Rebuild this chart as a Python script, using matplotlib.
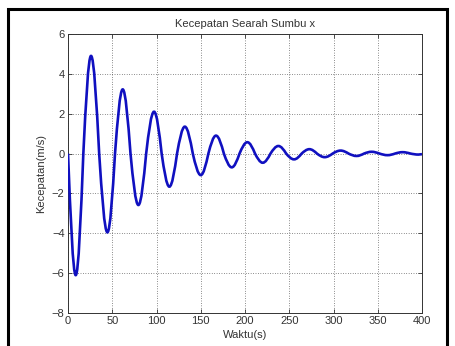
import numpy as np
import matplotlib
matplotlib.use("Agg")
import matplotlib.pyplot as plt
from matplotlib.path import Path
from matplotlib.patches import PathPatch, Rectangle

# extrema of the damped oscillation
t_ext = [8.7, 26.0, 44.5, 61.8, 79.5, 97.2, 114.5, 132.0, 150.0, 167.2, 185.0,
         202.6, 220.0, 237.7, 255.4, 272.7, 290.0, 308.0, 326.0, 343.0, 361.0,
         378.0, 396.0]
v_ext = [-6.1, 4.9, -3.95, 3.22, -2.58, 2.1, -1.66, 1.35, -1.08, 0.9, -0.69,
         0.57, -0.46, 0.38, -0.29, 0.22, -0.18, 0.15, -0.12, 0.09, -0.08,
         0.07, -0.05]
# zero crossings preceding each extremum
t_zero = [0.0, 17.3, 35.2, 53.1, 70.6, 88.3, 105.8, 123.2, 141.0, 158.6, 176.1,
          193.8, 211.3, 228.8, 246.5, 264.0, 281.3, 299.0, 317.0, 334.5, 352.0,
          369.5, 387.0]
t_end, v_end = 400.0, -0.03

x_ticks = [0, 50, 100, 150, 200, 250, 300, 350, 400]
y_ticks = [-8, -6, -4, -2, 0, 2, 4, 6]

plt.rcParams['font.family'] = ['Liberation Sans', 'DejaVu Sans']
txt = '#333333'

fig = plt.figure(figsize=(4.55, 3.46), dpi=100)
fig.patch.set_facecolor('white')
ax = fig.add_axes([0.1495, 0.0954, 0.778, 0.8063])

# build a smooth path: quarter-sine bezier pieces between zeros and extrema
a1, b1 = 0.326, 0.512
a2 = 0.638
verts = [(t_zero[0], 0.0)]
codes = [Path.MOVETO]
for i in range(len(t_ext)):
    t0, t1, v = t_zero[i], t_ext[i], v_ext[i]
    dt = t1 - t0
    verts += [(t0 + a1 * dt, b1 * v), (t0 + a2 * dt, v), (t1, v)]
    codes += [Path.CURVE4] * 3
    if i + 1 < len(t_zero):
        t2 = t_zero[i + 1]
        dt = t2 - t1
        verts += [(t1 + (1 - a2) * dt, v), (t1 + (1 - a1) * dt, b1 * v), (t2, 0.0)]
        codes += [Path.CURVE4] * 3
verts.append((t_end, v_end))
codes.append(Path.LINETO)
ax.add_patch(PathPatch(Path(verts, codes), facecolor='none',
                       edgecolor='#1010c0', lw=1.9, zorder=3))

ax.set_xlim(0, 400)
ax.set_ylim(-8, 6)
ax.set_xticks(x_ticks)
ax.set_yticks(y_ticks)
ax.tick_params(direction='in', length=3, width=0.6, labelsize=8,
               top=True, right=True, colors=txt, pad=2.5)
ax.grid(True, color='#222222', linestyle=(0, (1, 2.5)), linewidth=0.5)
for s in ax.spines.values():
    s.set_linewidth(0.7)
    s.set_color('#333333')

ax.set_title('Kecepatan Searah Sumbu x', fontsize=8, pad=5, color=txt)
ax.set_xlabel('Waktu(s)', fontsize=8, labelpad=2.5, color=txt)
ax.set_ylabel('Kecepatan(m/s)', fontsize=8, labelpad=4, color=txt)

# outer black frame
fig.patches.append(Rectangle((8 / 455, -0.05), 439 / 455, 1.05 - 9 / 346,
                             transform=fig.transFigure, fill=False,
                             edgecolor='black', lw=2.2))

fig.savefig('out.png', dpi=100)
